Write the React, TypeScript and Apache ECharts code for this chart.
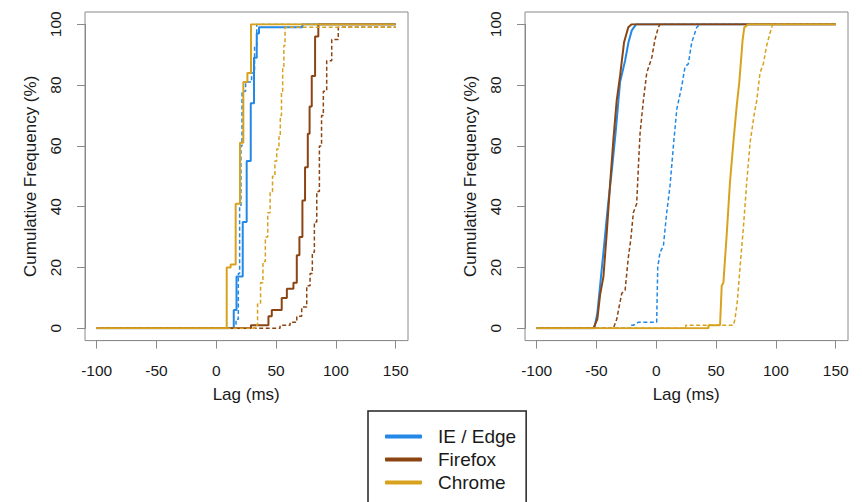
import React, { useEffect, useRef } from "react";
import * as echarts from "echarts";

// ---------- data (lag in ms, cumulative frequency in %) ----------
const LEGEND_NAMES = ["IE / Edge", "Firefox", "Chrome"];
const X_TICKS_MIN = -100;
const X_TICKS_MAX = 150;
const X_TICK_STEP = 50;
const Y_TICK_STEP = 20;

// Left panel
const ieSolidL = [[-100, 0], [14.6, 6], [16.9, 17], [22.1, 35], [25.4, 55], [28.8, 74], [31.5, 89], [33.8, 97], [35.7, 99], [72, 100], [150, 100]];
const ieDashedL = [[-100, 0], [16.5, 3], [18.4, 18], [19.5, 40], [20.6, 60], [21.5, 78], [24.5, 81], [29.5, 84], [32, 93], [33.8, 100], [150, 100]];
const ffSolidL = [[-100, 0], [29, 1], [43.6, 4], [46.4, 6], [54.7, 10], [59, 13], [64.5, 15], [67.3, 24], [69.5, 30], [72, 42], [74.2, 53], [76.5, 64], [78, 73], [79.8, 83], [82.6, 96], [85.3, 100], [150, 100]];
const ffDashedL = [[-100, 0], [53.3, 1], [61.7, 2], [67.3, 4], [71.4, 7], [75.6, 14], [78.4, 18], [80.3, 25], [82, 35], [84, 45], [86.2, 60], [88, 70], [89.5, 78], [92.3, 88], [96.5, 95], [102, 99], [150, 99]];
const chSolidL = [[-100, 0], [8.7, 20], [12, 21], [16.2, 41], [19.8, 61], [22.6, 81], [26, 84], [29, 100], [150, 100]];
const chDashedL = [[-100, 0], [32.4, 1], [34.5, 8], [37, 15], [39, 22], [41, 30], [43, 38], [45, 45], [47, 50], [49, 55], [50.5, 59], [52.4, 63], [53.5, 70], [54.5, 78], [55.5, 86], [56.5, 93], [57.5, 99], [150, 99]];

// Right panel
const ieSolidR = [[-100, 0], [-51.8, 0], [-49.3, 5], [-47, 14], [-43.7, 27], [-40.5, 40], [-36.9, 53], [-34.1, 64], [-30.3, 81], [-26.1, 88], [-23.3, 94], [-20.5, 98], [-16.9, 100], [150, 100]];
const ieDashedR = [[-100, 0], [-21.1, 0], [-21.1, 1], [-19.2, 1], [-15, 2], [0.3, 2], [1.2, 20], [3.1, 25], [5.9, 27], [8.7, 38], [11.5, 47], [14.3, 60], [17.1, 72], [21.2, 79.5], [24, 86], [26.8, 87], [29.6, 94], [33.8, 99], [36.6, 100], [150, 100]];
const ffSolidR = [[-100, 0], [-52.6, 0], [-49.3, 3], [-47, 11], [-44.2, 17], [-41.5, 31], [-38.7, 47], [-35.9, 62], [-33.1, 75], [-30.3, 83], [-27, 94], [-23.4, 99], [-20.6, 100], [150, 100]];
const ffDashedR = [[-100, 0], [-35.9, 0], [-33.1, 3], [-28.9, 11.5], [-26.1, 12.5], [-23.3, 23.6], [-21.4, 29], [-19.2, 38], [-16.4, 41], [-15, 53], [-13.6, 64], [-10.8, 75], [-8, 84], [-3.8, 89], [-1.1, 95], [1.7, 99], [3.1, 100], [150, 100]];
const chSolidR = [[-100, 0], [43.6, 0], [43.6, 1], [53.3, 1], [54.7, 14], [56.1, 15], [58.9, 31], [61.6, 48], [64.4, 61], [67.2, 73], [69.4, 81], [72.2, 95], [73.6, 99], [77, 100], [150, 100]];
const chDashedR = [[-100, 0], [24.6, 0], [24.6, 1], [64.4, 1], [65.8, 3], [67.8, 9], [70, 20], [72.8, 33], [75.6, 48], [78.4, 61], [81.7, 70], [84, 75], [86.7, 84], [89.5, 87], [92.3, 93], [95, 97], [97.3, 100], [150, 100]];

const COLORS: Record<string, string> = {
  "IE / Edge": "#2388e6",
  Firefox: "#8b4513",
  Chrome: "#d8a21f",
};

const FONT = "'Liberation Sans', Arial, Helvetica, sans-serif";
const TEXT = "#1a1a1a";
const BOX = "#8a8a8a";

export default function App() {
  const ref = useRef<HTMLDivElement>(null);

  useEffect(() => {
    document.body.style.margin = "0";
    if (!ref.current) return;
    const chart = echarts.init(ref.current, null, { renderer: "svg" });

    const grids = [
      { left: 96.7, top: 24.3, width: 299, height: 304 },
      { left: 536.7, top: 24.3, width: 299, height: 304 },
    ];

    const xAxis = [0, 1].map((i) => ({
      type: "value",
      gridIndex: i,
      min: X_TICKS_MIN,
      max: X_TICKS_MAX,
      interval: X_TICK_STEP,
      offset: 12.3,
      name: "Lag (ms)",
      nameLocation: "middle",
      nameGap: 45,
      nameTextStyle: { fontFamily: FONT, fontSize: 17, color: TEXT },
      axisLine: { show: true, onZero: false, lineStyle: { color: BOX, width: 1 } },
      axisTick: { show: true, length: 8, lineStyle: { color: BOX } },
      axisLabel: { fontFamily: FONT, fontSize: 15.5, color: TEXT, margin: 22 },
      splitLine: { show: false },
    }));

    const yAxis = [0, 1].map((i) => ({
      type: "value",
      gridIndex: i,
      min: 0,
      max: 100,
      interval: Y_TICK_STEP,
      offset: 11.7,
      name: "Cumulative Frequency (%)",
      nameLocation: "middle",
      nameGap: 46,
      nameTextStyle: { fontFamily: FONT, fontSize: 17, color: TEXT },
      axisLine: { show: true, onZero: false, lineStyle: { color: BOX, width: 1 } },
      axisTick: { show: true, length: 8, lineStyle: { color: BOX } },
      axisLabel: { fontFamily: FONT, fontSize: 15.5, color: TEXT, margin: 22, rotate: 90 },
      splitLine: { show: false },
    }));

    const mk = (name: string, data: number[][], grid: number, dashed: boolean, step: boolean) => ({
      type: "line",
      name,
      xAxisIndex: grid,
      yAxisIndex: grid,
      data,
      step: step ? "end" : false,
      showSymbol: false,
      symbol: "none",
      lineStyle: {
        color: COLORS[name],
        width: dashed ? 1.5 : 2,
        type: dashed ? [4, 2.5] : "solid",
      },
      itemStyle: { color: COLORS[name] },
      emphasis: { disabled: true },
      silent: true,
    });

    const series = [
      mk("IE / Edge", ieSolidL, 0, false, true),
      mk("IE / Edge", ieDashedL, 0, true, true),
      mk("Firefox", ffSolidL, 0, false, true),
      mk("Firefox", ffDashedL, 0, true, true),
      mk("Chrome", chDashedL, 0, true, true),
      mk("Chrome", chSolidL, 0, false, true),
      mk("IE / Edge", ieSolidR, 1, false, false),
      mk("IE / Edge", ieDashedR, 1, true, false),
      mk("Firefox", ffDashedR, 1, true, false),
      mk("Firefox", ffSolidR, 1, false, false),
      mk("Chrome", chDashedR, 1, true, false),
      mk("Chrome", chSolidR, 1, false, false),
    ];

    chart.setOption({
      animation: false,
      backgroundColor: "#ffffff",
      grid: grids,
      xAxis,
      yAxis,
      series,
      legend: {
        data: LEGEND_NAMES.map((n) => ({ name: n, itemStyle: { color: COLORS[n] } })),
        orient: "vertical",
        left: 368,
        top: 411,
        height: 200,
        padding: [16, 10, 16, 17],
        itemWidth: 37,
        itemHeight: 4,
        itemGap: 4,
        icon: "roundRect",
        borderColor: "#222",
        borderWidth: 1.5,
        borderRadius: 0,
        selectedMode: false,
        textStyle: { fontFamily: FONT, fontSize: 19, color: TEXT, padding: [0, 0, 0, 11] },
      },
      graphic: [
        { type: "rect", shape: { x: 85, y: 12, width: 323, height: 328.6 }, style: { fill: "none", stroke: BOX, lineWidth: 1 }, silent: true },
        { type: "rect", shape: { x: 525, y: 12, width: 323, height: 328.6 }, style: { fill: "none", stroke: BOX, lineWidth: 1 }, silent: true },
      ],
    });

    return () => chart.dispose();
  }, []);

  return <div ref={ref} style={{ width: 862, height: 502 }} />;
}
